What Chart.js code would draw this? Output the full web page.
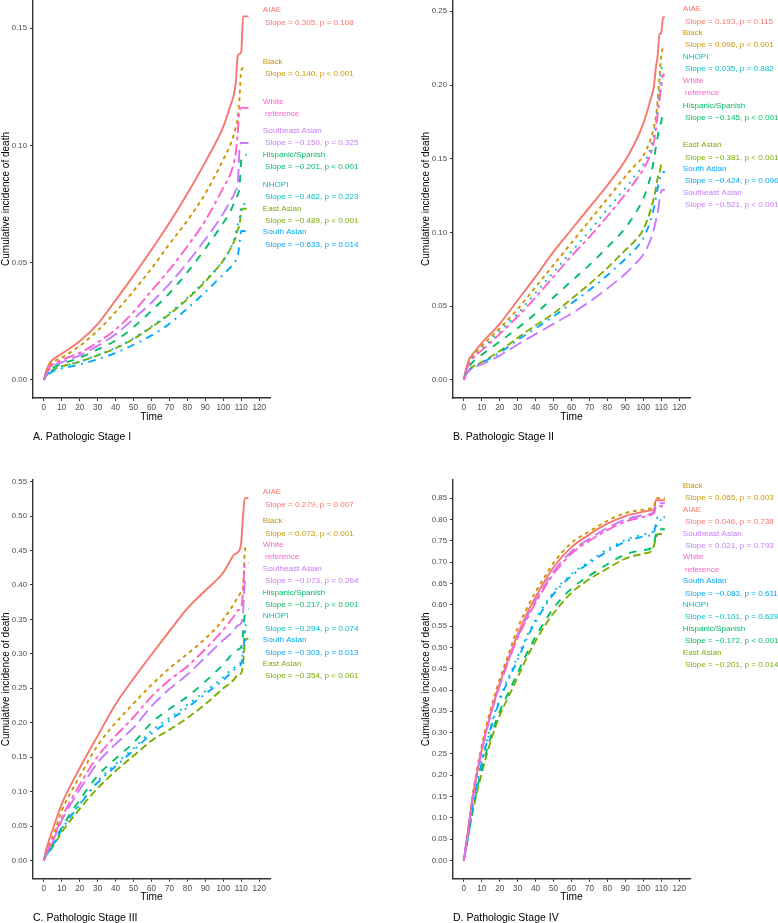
<!DOCTYPE html>
<html lang="en">
<head>
<meta charset="UTF-8" />
<title>Cumulative incidence of death by pathologic stage</title>
<style>
  body { margin: 0; background: #fff; }
  #wrap { position: relative; width: 778px; height: 923px; }
  canvas { position: absolute; }
</style>
</head>
<body>
<div id="wrap">
  <canvas id="stageI" width="389" height="461" style="left:0;top:0"></canvas>
  <canvas id="stageII" width="389" height="461" style="left:389px;top:0"></canvas>
  <canvas id="stageIII" width="389" height="462" style="left:0;top:461px"></canvas>
  <canvas id="stageIV" width="389" height="462" style="left:389px;top:461px"></canvas>
</div>
<script src="https://cdn.jsdelivr.net/npm/chart.js@4.4.0/dist/chart.umd.min.js"></script>
<script>
// groups, in the order used by every cif array below
const groups = ['AIAE', 'Black', 'East Asian', 'Hispanic/Spanish', 'NHOPI', 'South Asian', 'Southeast Asian', 'White'];
const timeTicks = [0, 10, 20, 30, 40, 50, 60, 70, 80, 90, 100, 110, 120];

// A. Stage I
const timeI = [0, 1, 3, 5, 10, 20, 30, 40, 50, 60, 70, 80, 90, 100, 104, 106, 107, 108, 109, 110, 111, 112, 113, 114];
const cifI = [
  [0, 0.003, 0.0068, 0.0086, 0.0112, 0.0165, 0.0238, 0.034, 0.0445, 0.0555, 0.067, 0.0795, 0.093, 0.108, 0.117, 0.122, 0.127, 0.138, 0.139, 0.140, 0.155, 0.155, 0.155, 0.155],
  [0, 0.0025, 0.0058, 0.0075, 0.0095, 0.0145, 0.021, 0.029, 0.038, 0.0475, 0.058, 0.068, 0.0795, 0.094, 0.1005, 0.105, 0.108, 0.112, 0.12, 0.132, 0.133, 0.133, 0.133, null],
  [0, 0.0015, 0.0032, 0.0043, 0.0058, 0.0078, 0.0105, 0.0135, 0.0175, 0.0225, 0.028, 0.0345, 0.042, 0.051, 0.056, 0.059, 0.061, 0.064, 0.066, 0.072, 0.073, 0.073, 0.073, null],
  [0, 0.0015, 0.0038, 0.0052, 0.0068, 0.0095, 0.013, 0.0168, 0.0225, 0.0295, 0.037, 0.046, 0.056, 0.067, 0.072, 0.0755, 0.077, 0.079, 0.082, 0.094, 0.096, 0.096, 0.096, null],
  [0, 0.0015, 0.0032, 0.0043, 0.0056, 0.0078, 0.0106, 0.0137, 0.0178, 0.0228, 0.0285, 0.035, 0.0425, 0.051, 0.056, 0.06, 0.063, 0.066, 0.068, 0.074, 0.075, 0.075, 0.075, null],
  [0, 0.0012, 0.0026, 0.0036, 0.0048, 0.0066, 0.0088, 0.0115, 0.015, 0.019, 0.024, 0.0305, 0.0375, 0.045, 0.048, 0.0495, 0.051, 0.0525, 0.058, 0.0635, 0.0635, 0.0635, 0.0635, 0.0635],
  [0, 0.002, 0.0045, 0.006, 0.0075, 0.0105, 0.0145, 0.0195, 0.026, 0.033, 0.041, 0.05, 0.06, 0.071, 0.0765, 0.079, 0.081, 0.083, 0.098, 0.101, 0.101, 0.101, 0.101, 0.101],
  [0, 0.002, 0.005, 0.0065, 0.0085, 0.0115, 0.016, 0.0215, 0.029, 0.038, 0.047, 0.057, 0.068, 0.082, 0.088, 0.093, 0.097, 0.105, 0.115, 0.116, 0.116, 0.116, 0.116, 0.116]
];
const slopeI = ['Slope = 0.305, p = 0.108', 'Slope = 0.140, p < 0.001', 'Slope = −0.489, p < 0.001', 'Slope = −0.201, p < 0.001',
  'Slope = −0.462, p = 0.223', 'Slope = −0.633, p = 0.014', 'Slope = −0.150, p = 0.325', 'reference'];
const yTicksI = [0, 0.05, 0.10, 0.15];

// B. Stage II
const timeII = [0, 1, 3, 5, 10, 20, 30, 40, 50, 60, 70, 80, 90, 95, 100, 104, 106, 107, 108, 109, 110, 111, 112];
const cifII = [
  [0, 0.006, 0.014, 0.0175, 0.025, 0.038, 0.054, 0.07, 0.087, 0.102, 0.117, 0.132, 0.149, 0.16, 0.174, 0.19, 0.2, 0.212, 0.22, 0.235, 0.235, 0.246, 0.246],
  [0, 0.005, 0.012, 0.016, 0.023, 0.035, 0.048, 0.063, 0.078, 0.093, 0.108, 0.123, 0.138, 0.145, 0.152, 0.163, 0.172, 0.178, 0.19, 0.205, 0.22, 0.226, null],
  [0, 0.003, 0.007, 0.009, 0.012, 0.0195, 0.0285, 0.037, 0.045, 0.055, 0.065, 0.076, 0.088, 0.094, 0.102, 0.115, 0.124, 0.13, 0.137, 0.14, 0.146, 0.147, null],
  [0, 0.004, 0.009, 0.012, 0.017, 0.026, 0.035, 0.045, 0.056, 0.067, 0.078, 0.09, 0.103, 0.112, 0.123, 0.138, 0.15, 0.158, 0.165, 0.172, 0.175, 0.182, 0.182],
  [0, 0.005, 0.011, 0.015, 0.021, 0.033, 0.045, 0.059, 0.073, 0.087, 0.101, 0.116, 0.13, 0.138, 0.146, 0.157, 0.167, 0.174, 0.185, 0.198, 0.21, 0.214, 0.214],
  [0, 0.003, 0.0065, 0.0085, 0.0115, 0.0185, 0.027, 0.035, 0.043, 0.052, 0.061, 0.071, 0.082, 0.088, 0.096, 0.108, 0.117, 0.123, 0.13, 0.135, 0.14, 0.141, 0.141],
  [0, 0.003, 0.006, 0.008, 0.0105, 0.0165, 0.024, 0.031, 0.038, 0.045, 0.053, 0.062, 0.072, 0.078, 0.085, 0.095, 0.103, 0.108, 0.113, 0.122, 0.128, 0.129, 0.129],
  [0, 0.005, 0.011, 0.0145, 0.02, 0.031, 0.043, 0.056, 0.07, 0.084, 0.097, 0.111, 0.126, 0.134, 0.143, 0.153, 0.162, 0.17, 0.18, 0.19, 0.199, 0.207, 0.207]
];
const slopeII = ['Slope = 0.193, p = 0.115', 'Slope = 0.096, p < 0.001', 'Slope = −0.381, p < 0.001', 'Slope = −0.145, p < 0.001',
  'Slope = 0.035, p = 0.882', 'Slope = −0.424, p = 0.006', 'Slope = −0.521, p < 0.001', 'reference'];
const yTicksII = [0, 0.05, 0.10, 0.15, 0.20, 0.25];

// C. Stage III
const timeIII = [0, 1, 3, 5, 10, 20, 30, 40, 50, 60, 70, 80, 90, 100, 104, 106, 108, 110, 111, 112, 113, 114];
const cifIII = [
  [0, 0.012, 0.03, 0.045, 0.082, 0.134, 0.181, 0.227, 0.264, 0.299, 0.333, 0.366, 0.392, 0.418, 0.436, 0.444, 0.447, 0.462, 0.5, 0.526, 0.526, 0.526],
  [0, 0.009, 0.022, 0.034, 0.072, 0.122, 0.167, 0.2, 0.228, 0.255, 0.279, 0.3, 0.322, 0.35, 0.365, 0.373, 0.382, 0.39, 0.398, 0.45, 0.456, 0.456],
  [0, 0.006, 0.013, 0.02, 0.041, 0.075, 0.105, 0.13, 0.152, 0.174, 0.19, 0.207, 0.227, 0.25, 0.258, 0.263, 0.27, 0.272, 0.285, 0.315, 0.322, 0.322],
  [0, 0.007, 0.015, 0.023, 0.048, 0.088, 0.123, 0.148, 0.171, 0.2, 0.22, 0.238, 0.26, 0.285, 0.297, 0.302, 0.306, 0.31, 0.33, 0.358, 0.365, 0.365],
  [0, 0.007, 0.014, 0.021, 0.046, 0.082, 0.115, 0.14, 0.163, 0.188, 0.207, 0.226, 0.246, 0.266, 0.276, 0.28, 0.285, 0.29, 0.305, 0.335, 0.344, 0.344],
  [0, 0.006, 0.014, 0.021, 0.045, 0.081, 0.113, 0.137, 0.16, 0.184, 0.203, 0.222, 0.242, 0.262, 0.272, 0.277, 0.281, 0.286, 0.3, 0.33, 0.334, null],
  [0, 0.008, 0.018, 0.028, 0.058, 0.103, 0.142, 0.169, 0.193, 0.224, 0.249, 0.27, 0.295, 0.32, 0.329, 0.335, 0.341, 0.345, 0.36, 0.405, 0.409, 0.409],
  [0, 0.008, 0.019, 0.03, 0.062, 0.11, 0.151, 0.181, 0.208, 0.238, 0.262, 0.282, 0.307, 0.335, 0.348, 0.355, 0.363, 0.368, 0.39, 0.43, 0.432, 0.432]
];
const slopeIII = ['Slope = 0.279, p = 0.007', 'Slope = 0.073, p < 0.001', 'Slope = −0.354, p < 0.001', 'Slope = −0.217, p < 0.001',
  'Slope = −0.294, p = 0.074', 'Slope = −0.303, p = 0.013', 'Slope = −0.073, p = 0.264', 'reference'];
const yTicksIII = [0, 0.05, 0.10, 0.15, 0.20, 0.25, 0.30, 0.35, 0.40, 0.45, 0.50, 0.55];

// D. Stage IV
const timeIV = [0, 2, 5, 10, 15, 20, 25, 30, 35, 40, 45, 50, 60, 70, 80, 90, 100, 105, 106, 107, 108, 112];
const cifIV = [
  [0, 0.06, 0.15, 0.26, 0.345, 0.415, 0.475, 0.53, 0.578, 0.618, 0.655, 0.688, 0.735, 0.765, 0.79, 0.808, 0.818, 0.822, 0.824, 0.845, 0.845, 0.845],
  [0, 0.06, 0.155, 0.27, 0.355, 0.425, 0.485, 0.545, 0.59, 0.63, 0.665, 0.698, 0.745, 0.772, 0.797, 0.815, 0.823, 0.827, 0.83, 0.848, 0.85, 0.85],
  [0, 0.045, 0.115, 0.205, 0.28, 0.34, 0.385, 0.43, 0.475, 0.515, 0.55, 0.58, 0.628, 0.66, 0.685, 0.708, 0.72, 0.728, 0.74, 0.755, 0.766, 0.766],
  [0, 0.045, 0.12, 0.215, 0.29, 0.35, 0.395, 0.44, 0.485, 0.525, 0.56, 0.592, 0.638, 0.668, 0.695, 0.718, 0.728, 0.735, 0.745, 0.765, 0.777, 0.777],
  [0, 0.05, 0.13, 0.235, 0.315, 0.38, 0.43, 0.478, 0.525, 0.565, 0.6, 0.63, 0.672, 0.702, 0.73, 0.752, 0.765, 0.77, 0.772, 0.78, 0.795, 0.8],
  [0, 0.05, 0.13, 0.23, 0.31, 0.375, 0.425, 0.47, 0.52, 0.56, 0.595, 0.625, 0.668, 0.698, 0.725, 0.748, 0.76, 0.765, 0.77, 0.79, 0.805, 0.805],
  [0, 0.055, 0.145, 0.255, 0.34, 0.41, 0.47, 0.525, 0.57, 0.61, 0.645, 0.678, 0.725, 0.755, 0.78, 0.8, 0.81, 0.815, 0.82, 0.835, 0.838, 0.838],
  [0, 0.06, 0.15, 0.26, 0.345, 0.412, 0.47, 0.522, 0.565, 0.605, 0.64, 0.672, 0.72, 0.75, 0.775, 0.795, 0.806, 0.812, 0.815, 0.828, 0.831, 0.831]
];
const slopeIV = ['Slope = 0.046, p = 0.738', 'Slope = 0.065, p = 0.003', 'Slope = −0.201, p = 0.014', 'Slope = −0.172, p < 0.001',
  'Slope = −0.101, p = 0.629', 'Slope = −0.083, p = 0.611', 'Slope = 0.021, p = 0.793', 'reference'];
const yTicksIV = [0, 0.05, 0.10, 0.15, 0.20, 0.25, 0.30, 0.35, 0.40, 0.45, 0.50, 0.55, 0.60, 0.65, 0.70, 0.75, 0.80, 0.85];

// ggplot hue palette + default linetypes
const colors = ['#F8766D', '#CD9600', '#7CAE00', '#00BE67', '#00BFC4', '#00A9FF', '#C77CFF', '#FF61CC'];
const dashes = [[], [3.8, 3.8], [7.6, 3.8], [7.6, 7.6], [1.9, 5.7], [1.9, 5.7, 7.6, 5.7], [13.3, 5.7], [3.8, 3.8, 11.4, 3.8]];

const FONT = "'Liberation Sans', Arial, Helvetica, sans-serif";
Chart.defaults.font.family = FONT;

// push overlapping labels apart (keeps them in order, clamps to the panel)
function spread(targets, gap, lo, hi) {
  let cl = targets.map(t => ({ sum: t, n: 1 }));
  const start = c => Math.max(lo, Math.min(c.sum / c.n - (c.n - 1) * gap / 2, hi - (c.n - 1) * gap));
  let merged = true;
  while (merged) {
    merged = false;
    for (let i = 0; i < cl.length - 1; i++) {
      const a = cl[i], b = cl[i + 1];
      if (start(a) + a.n * gap > start(b)) {
        cl.splice(i, 2, { sum: a.sum + b.sum, n: a.n + b.n });
        merged = true;
        break;
      }
    }
  }
  const out = [];
  cl.forEach(c => { const s = start(c); for (let k = 0; k < c.n; k++) out.push(s + k * gap); });
  return out;
}

const endLabels = {
  id: 'endLabels',
  afterDatasetsDraw(chart, args, opts) {
    const { ctx, chartArea, scales: { x, y } } = chart;
    const items = chart.data.datasets.map((ds, i) => {
      const vals = ds.data.filter(v => v !== null);
      return { i, target: y.getPixelForValue(vals[vals.length - 1]) };
    }).sort((a, b) => a.target - b.target);
    const pos = spread(items.map(d => d.target), 23.8, chartArea.top + 12, chartArea.bottom - 12);
    const lx = x.getPixelForValue(122);
    ctx.save();
    ctx.font = '8.1px ' + FONT;
    ctx.textAlign = 'left';
    ctx.textBaseline = 'middle';
    items.forEach((d, k) => {
      ctx.fillStyle = colors[d.i];
      ctx.fillText(groups[d.i], lx, pos[k] - 6.2);
      ctx.fillText(' ' + opts.slopes[d.i], lx, pos[k] + 6.2);
    });
    ctx.fillStyle = '#000';
    ctx.font = '10.5px ' + FONT;
    ctx.fillText(opts.caption, chartArea.left, x.bottom + 14);
    ctx.restore();
  }
};

const panels = [
  { id: 'stageI', caption: 'A. Pathologic Stage I', times: timeI, cif: cifI, slopes: slopeI, yTicks: yTicksI,
    yMin: -0.0077, yMax: 0.162, pad: { left: 0, right: 119, top: 0, bottom: 38 } },
  { id: 'stageII', caption: 'B. Pathologic Stage II', times: timeII, cif: cifII, slopes: slopeII, yTicks: yTicksII,
    yMin: -0.0123, yMax: 0.2577, pad: { left: 31, right: 88, top: 0, bottom: 38 } },
  { id: 'stageIII', caption: 'C. Pathologic Stage III', times: timeIII, cif: cifIII, slopes: slopeIII, yTicks: yTicksIII,
    yMin: -0.0263, yMax: 0.5523, pad: { left: 0, right: 119, top: 19, bottom: 19.3 } },
  { id: 'stageIV', caption: 'D. Pathologic Stage IV', times: timeIV, cif: cifIV, slopes: slopeIV, yTicks: yTicksIV,
    yMin: -0.0425, yMax: 0.8925, pad: { left: 31, right: 88, top: 19, bottom: 19.3 } }
];

const axisGrid = { drawOnChartArea: false, drawTicks: true, tickLength: 3, color: '#333', lineWidth: 1 };
const axisBorder = { display: true, color: '#333', width: 1.4 };

panels.forEach(p => {
  new Chart(document.getElementById(p.id), {
    type: 'line',
    data: {
      labels: p.times,
      datasets: groups.map((g, i) => ({
        label: g,
        data: p.cif[i],
        borderColor: colors[i],
        borderDash: dashes[i],
        borderWidth: 1.9,
        pointRadius: 0,
        cubicInterpolationMode: 'monotone',
        fill: false,
        order: -i
      }))
    },
    options: {
      responsive: false,
      animation: false,
      devicePixelRatio: 1,
      layout: { padding: p.pad },
      plugins: {
        legend: { display: false },
        tooltip: { enabled: false },
        endLabels: { slopes: p.slopes, caption: p.caption }
      },
      scales: {
        x: {
          type: 'linear', min: -6, max: 126,
          afterBuildTicks: s => { s.ticks = timeTicks.map(v => ({ value: v })); },
          afterFit: s => { s.height = 25; s.paddingLeft = 0; s.paddingRight = 0; },
          grid: axisGrid, border: axisBorder,
          ticks: { color: '#4d4d4d', font: { size: 8.2 }, padding: 2, maxRotation: 0, autoSkip: false },
          title: { display: true, text: 'Time', color: '#000', font: { size: 10.2 }, padding: 0 }
        },
        y: {
          type: 'linear', min: p.yMin, max: p.yMax,
          afterBuildTicks: s => { s.ticks = p.yTicks.map(v => ({ value: v })); },
          afterFit: s => { s.width = 33; s.paddingTop = 0; s.paddingBottom = 0; },
          grid: axisGrid, border: axisBorder,
          ticks: { color: '#4d4d4d', font: { size: 7.8 }, padding: 3, autoSkip: false, callback: v => v.toFixed(2) },
          title: { display: true, text: 'Cumulative incidence of death', color: '#000', font: { size: 10 }, padding: 0 }
        }
      }
    },
    plugins: [endLabels]
  });
});
</script>
</body>
</html>
